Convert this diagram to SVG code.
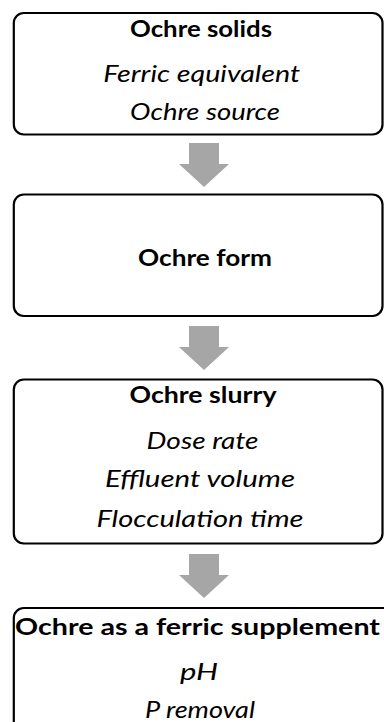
<svg xmlns="http://www.w3.org/2000/svg" width="384" height="722" viewBox="0 0 384 722">
<style>
.box{fill:#fff;stroke:#000;stroke-width:2.2}
.arrow{fill:#A6A6A6;stroke:none}
text{font-family:Lato,"Open Sans","Liberation Sans",sans-serif;font-size:23px;fill:#000;text-anchor:middle}
.t{font-weight:bold}
.i{font-style:italic}
</style>
<rect width="384" height="722" fill="#fff"/>
<g id="connectors">
<path class="arrow" d="M189,143 H219 V164 H229 L204,187 L179,164 H189 Z"/>
<path class="arrow" d="M189,326 H219 V347 H229 L204,370 L179,347 H189 Z"/>
<path class="arrow" d="M189,554 H219 V575 H229 L204,598 L179,575 H189 Z"/>
</g>
<g id="node-ochre-solids">
<rect class="box" x="13.8" y="13" width="368.7" height="121.5" rx="10"/>
<text class="t" x="201" y="37" textLength="142" lengthAdjust="spacingAndGlyphs">Ochre solids</text>
<text class="i" x="201.7" y="82" textLength="197" lengthAdjust="spacingAndGlyphs">Ferric equivalent</text>
<text class="i" x="205" y="120" textLength="150" lengthAdjust="spacingAndGlyphs">Ochre source</text>
</g>
<g id="node-ochre-form">
<rect class="box" x="13.8" y="194.5" width="368.7" height="121.5" rx="10"/>
<text class="t" x="205" y="265.5" textLength="134" lengthAdjust="spacingAndGlyphs">Ochre form</text>
</g>
<g id="node-ochre-slurry">
<rect class="box" x="13.8" y="379.5" width="368.7" height="164" rx="10"/>
<text class="t" x="203" y="403" textLength="147" lengthAdjust="spacingAndGlyphs">Ochre slurry</text>
<text class="i" x="202.5" y="449" textLength="112" lengthAdjust="spacingAndGlyphs">Dose rate</text>
<text class="i" x="200" y="487" textLength="190" lengthAdjust="spacingAndGlyphs">Effluent volume</text>
<text class="i" x="200" y="527" textLength="207" lengthAdjust="spacingAndGlyphs">Flocculation time</text>
</g>
<g id="node-ochre-ferric-supplement">
<rect class="box" x="13.8" y="608" width="382" height="140" rx="10"/>
<text class="t" x="197.5" y="635" textLength="365" lengthAdjust="spacingAndGlyphs">Ochre as a ferric supplement</text>
<text class="i" x="199" y="680" textLength="38" lengthAdjust="spacingAndGlyphs">pH</text>
<text class="i" x="200" y="718" textLength="110" lengthAdjust="spacingAndGlyphs">P removal</text>
</g>
</svg>
